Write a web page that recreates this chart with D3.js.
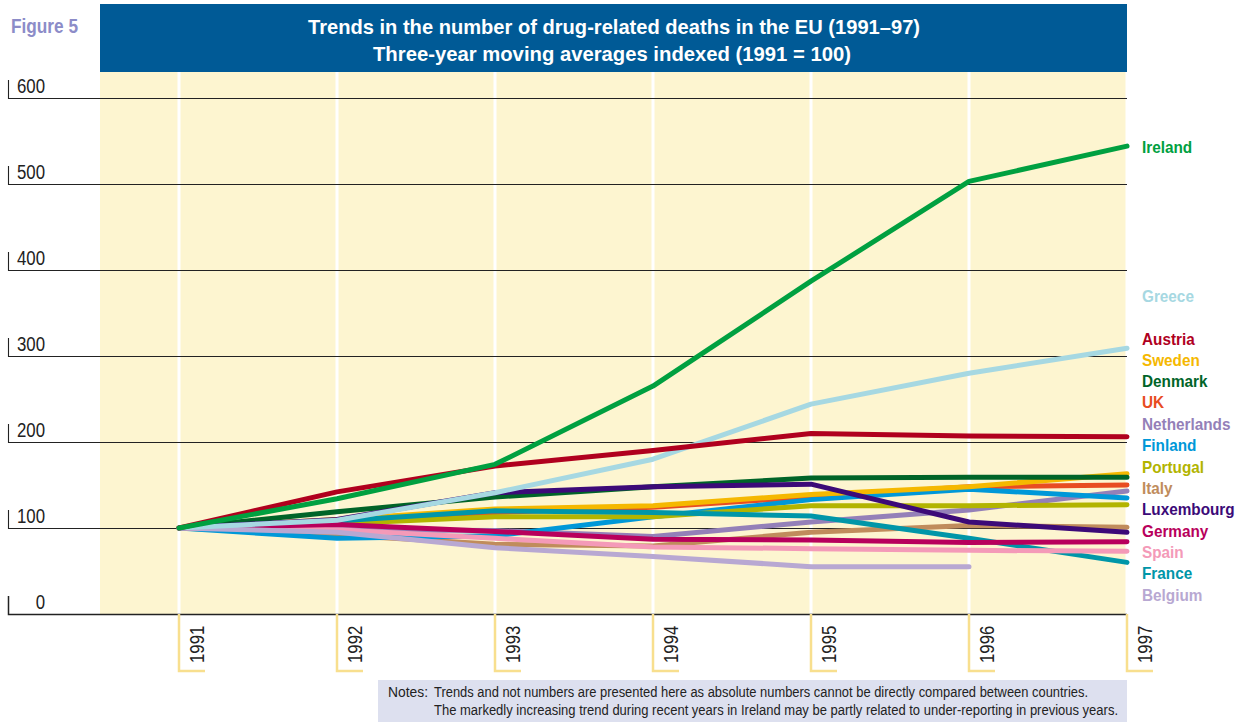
<!DOCTYPE html>
<html><head><meta charset="utf-8">
<script src="https://cdn.jsdelivr.net/npm/d3@7/dist/d3.min.js"></script>
<style>
body{margin:0;background:#fff;}
svg{display:block;}
</style></head>
<body>
<svg id="chart" width="1247" height="722"></svg>
<script>
const years = [1991,1992,1993,1994,1995,1996,1997];
const yTicks = [0,100,200,300,400,500,600];
const countries = ["Ireland","Greece","Austria","Sweden","Denmark","UK","Netherlands","Finland","Portugal","Italy","Luxembourg","Germany","Spain","France","Belgium"];
const colors = ["#00a040","#a6d8e2","#b0001e","#f5b800","#006428","#e84c22","#9480b8","#0098d8","#b2b400","#c08c5c","#3c0a78","#b8005c","#f49ab8","#0096a8","#b8a8d2"];
const ireland     = [100,134,174,265,387,503,544];
const greece      = [100,109,141,180,244,280,309];
const austria     = [100,142,172,190,210,207,206];
const sweden      = [100,110,122,126,139,148,163];
const denmark     = [100,119,136,148,158,159,159];
const uk          = [100,106,118,124,136,148,150];
const netherlands = [100,98,97,90,107,121,143];
const finland     = [100,88,91,113,133,145,135];
const portugal    = [100,105,113,113,126,126,127];
const italy       = [100,92,81,79,95,103,101];
const luxembourg  = [100,110,141,148,151,107,95];
const germany     = [100,104,96,87,86,83,84];
const spain       = [100,98,88,78,76,74,73];
const france      = [100,108,120,118,114,88,60];
const belgium     = [100,95,77,67,55,55,null];
const seriesValues = [ireland,greece,austria,sweden,denmark,uk,netherlands,finland,portugal,italy,luxembourg,germany,spain,france,belgium];
const legendY = [147,296,339,360,381,402,424,445,467,488,509,531,552,573,595];
const drawOrder = ["Italy","UK","Netherlands","Finland","Portugal","Sweden","France","Spain","Germany","Denmark","Luxembourg","Belgium","Greece","Austria","Ireland"];

const font = "'Liberation Sans',Arial,Helvetica,sans-serif";
const svg = d3.select("#chart");
const x = d3.scaleLinear().domain([1991,1997]).range([179,1127]);
const y = d3.scaleLinear().domain([0,600]).range([614,98]);

function condense(sel, f){
  sel.each(function(){
    const w = this.getComputedTextLength();
    d3.select(this).attr("textLength", w*f).attr("lengthAdjust","spacingAndGlyphs");
  });
}

// figure label
svg.append("text").attr("x",11).attr("y",33).attr("font-family",font).attr("font-weight","bold")
  .attr("font-size",20).attr("fill","#8c8cc8")
  .attr("textLength",67).attr("lengthAdjust","spacingAndGlyphs").text("Figure 5");

// header
svg.append("rect").attr("x",100).attr("y",4).attr("width",1027).attr("height",68).attr("fill","#005a96");
svg.append("text").attr("x",614).attr("y",34).attr("text-anchor","middle").attr("font-family",font)
  .attr("font-weight","bold").attr("font-size",21).attr("fill","#fff")
  .attr("textLength",612).attr("lengthAdjust","spacingAndGlyphs")
  .text("Trends in the number of drug-related deaths in the EU (1991–97)");
svg.append("text").attr("x",612).attr("y",61).attr("text-anchor","middle").attr("font-family",font)
  .attr("font-weight","bold").attr("font-size",21).attr("fill","#fff")
  .attr("textLength",478).attr("lengthAdjust","spacingAndGlyphs")
  .text("Three-year moving averages indexed (1991 = 100)");

// plot background
svg.append("rect").attr("x",100).attr("y",72).attr("width",1027).attr("height",542).attr("fill","#fdf5d0");

// white vertical year lines
svg.append("g").selectAll("line").data(years).join("line")
  .attr("x1",d=>x(d)).attr("x2",d=>x(d)).attr("y1",72).attr("y2",614)
  .attr("stroke","#fff").attr("stroke-width",3);

// y gridlines with L ticks
const yAxis = d3.axisLeft(y).tickValues(yTicks).tickSize(0).tickFormat(d3.format("d"));
const gy = svg.append("g").attr("transform","translate(45,0)").call(yAxis);
gy.select(".domain").remove();
gy.selectAll("text").attr("x",0).attr("dy",0).attr("y",-6).attr("font-family",font).attr("font-size",20)
  .attr("fill","#222").attr("text-anchor","end").call(condense,0.84);
const grid = svg.append("g");
grid.selectAll("path").data(yTicks).join("path")
  .attr("d",d=>`M8.5,${y(d)-18}V${y(d)+0.5}H1127`)
  .attr("fill","none").attr("stroke","#222").attr("stroke-width",d=>d===0?1.5:1.1);

// lines
const line = d3.line().defined(d=>d.v!=null).x(d=>x(d.year)).y(d=>y(d.v));
const data = countries.map((c,i)=>({name:c,color:colors[i],values:years.map((yr,j)=>({year:yr,v:seriesValues[i][j]}))}));
const ordered = drawOrder.map(n=>data.find(d=>d.name===n));
svg.append("g").selectAll("path").data(ordered).join("path")
  .attr("d",d=>line(d.values)).attr("fill","none").attr("stroke",d=>d.color)
  .attr("stroke-width",5).attr("stroke-linejoin","round").attr("stroke-linecap","round");

// x axis brackets and labels
const gx = svg.append("g");
gx.selectAll("path").data(years).join("path")
  .attr("d",d=>`M${x(d)},614V671H${x(d)+26}`).attr("fill","none").attr("stroke","#f8df8e").attr("stroke-width",2.5);
gx.selectAll("text").data(years).join("text")
  .attr("transform",d=>`translate(${x(d)+25},663) rotate(-90)`)
  .attr("font-family",font).attr("font-size",21).attr("fill","#222").text(d=>d)
  .call(condense,0.8);

// legend labels
svg.append("g").selectAll("text").data(data).join("text")
  .attr("x",1142).attr("y",(d,i)=>legendY[i]+6).attr("font-family",font).attr("font-weight","bold")
  .attr("font-size",17).attr("fill",d=>d.color).text(d=>d.name)
  .call(condense,0.9);

// notes
svg.append("rect").attr("x",378).attr("y",680).attr("width",749).attr("height",42).attr("fill","#dde0ef");
svg.append("text").attr("x",388).attr("y",697).attr("font-family",font).attr("font-size",14).attr("fill","#222")
  .attr("textLength",40).attr("lengthAdjust","spacingAndGlyphs").text("Notes:");
svg.append("text").attr("x",434).attr("y",697).attr("font-family",font).attr("font-size",14).attr("fill","#222")
  .attr("textLength",654).attr("lengthAdjust","spacingAndGlyphs")
  .text("Trends and not numbers are presented here as absolute numbers cannot be directly compared between countries.");
svg.append("text").attr("x",434).attr("y",715).attr("font-family",font).attr("font-size",14).attr("fill","#222")
  .attr("textLength",684).attr("lengthAdjust","spacingAndGlyphs")
  .text("The markedly increasing trend during recent years in Ireland may be partly related to under-reporting in previous years.");
</script>
</body></html>
